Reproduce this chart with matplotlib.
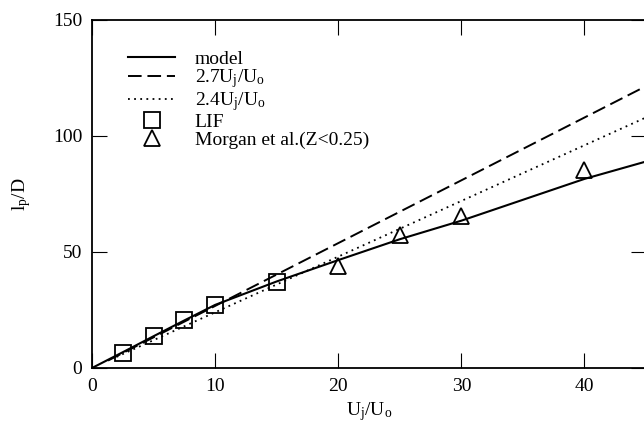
import matplotlib
matplotlib.use('Agg')
import matplotlib.pyplot as plt

plt.rcParams['font.family'] = 'Liberation Serif'
plt.rcParams['mathtext.fontset'] = 'custom'
plt.rcParams['mathtext.rm'] = 'Liberation Serif'
plt.rcParams['mathtext.it'] = 'Liberation Serif:italic'

# model curve
model_x = [0, 2.5, 5, 7.5, 10, 15, 20, 25, 30, 35, 40, 45]
model_y = [0, 6.8, 13.7, 20.5, 27.2, 37.3, 46.5, 55.5, 63.5, 72.5, 81.5, 89.0]

# straight fits, drawn between their visible end points
fit27_x = [1.3, 46]
fit27_y = [3.2, 124.2]
fit24_x = [2.0, 46]
fit24_y = [4.8, 110.4]

# LIF data
lif_x = [2.5, 5, 7.5, 10, 15]
lif_y = [6.6, 13.8, 20.7, 27.2, 37.0]

# Morgan et al. data
morgan_x = [20, 25, 30, 40]
morgan_y = [44.0, 57.3, 65.5, 85.3]

fig = plt.figure(figsize=(6.44, 4.22), dpi=100)
ax = fig.add_axes([92 / 644, 54 / 422, 554 / 644, 348 / 422])

ax.plot(model_x, model_y, color='black', lw=1.5, label='model')
ax.plot(fit27_x, fit27_y, color='black', lw=1.4, dashes=(7, 3), label=r'2.7U$_\mathrm{j}$/U$_\mathrm{o}$')
ax.plot(fit24_x, fit24_y, color='black', lw=1.3, dashes=(1, 2.4), label=r'2.4U$_\mathrm{j}$/U$_\mathrm{o}$')
ax.plot(lif_x, lif_y, ls='none', marker='s', ms=11, mfc='none', mec='black', mew=1.3, label='LIF')
ax.plot(morgan_x, morgan_y, ls='none', marker='^', ms=12, mfc='none', mec='black', mew=1.3,
        label='Morgan et al.(Z<0.25)')

ax.set_xlim(0, 45)
ax.set_ylim(0, 150)
ax.set_xticks([0, 10, 20, 30, 40])
ax.set_yticks([0, 50, 100, 150])

ax.tick_params(axis='both', direction='in', length=11, width=0.8, labelsize=14, pad=7,
               top=True, right=True)
for s in ax.spines.values():
    s.set_linewidth(1.3)

ax.set_xlabel(r'U$_\mathrm{j}$/U$_\mathrm{o}$', fontsize=14, labelpad=4)
ax.set_ylabel(r'l$_\mathrm{p}$/D', fontsize=14, labelpad=14)

ax.legend(loc='upper left', bbox_to_anchor=(0.065, 0.914), frameon=False, fontsize=14,
          borderpad=0, borderaxespad=0, handlelength=2.42, handletextpad=1.0,
          labelspacing=0.0)

fig.savefig('out.png', dpi=100)
